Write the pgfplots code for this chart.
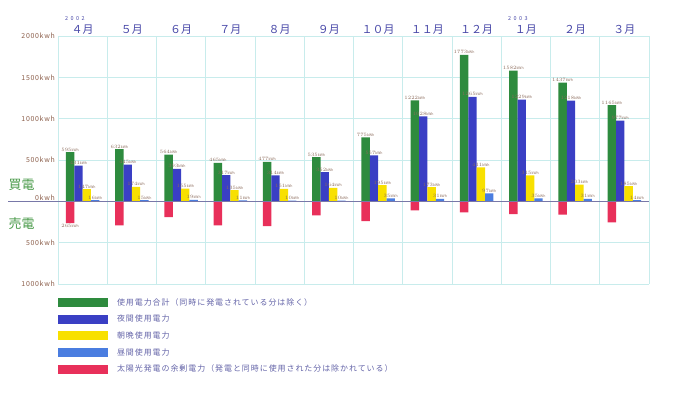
\documentclass[border=0pt]{standalone}
\usepackage{fontspec}
\usepackage{pgfplots}
\pgfplotsset{compat=1.18}
\setmainfont{Noto Sans CJK JP}
\newfontfamily\legfont[LetterSpace=12]{Noto Sans CJK JP}
\newfontfamily\yearfont[LetterSpace=45]{Noto Sans CJK JP}
\newfontfamily\tickfont[LetterSpace=10]{Noto Sans CJK JP}
\definecolor{greenc}{HTML}{2E8B3E}
\definecolor{bluec}{HTML}{3A3FC4}
\definecolor{yellowc}{HTML}{F8E000}
\definecolor{lbluec}{HTML}{4A7DE0}
\definecolor{redc}{HTML}{E8305A}
\definecolor{gridc}{HTML}{C8ECEC}
\definecolor{zeroc}{HTML}{7878A8}
\definecolor{tickc}{HTML}{8B5E4A}
\definecolor{monthc}{HTML}{4848A8}
\definecolor{legc}{HTML}{6464A8}
\definecolor{labc}{HTML}{8B6B5B}
\definecolor{buyc}{HTML}{4A9A4A}
\begin{document}
\begin{tikzpicture}
\path[use as bounding box] (0,0) rectangle (673bp,-394bp);
\begin{axis}[
  at={(58bp,-36bp)}, anchor=north west,
  scale only axis, width=591bp, height=248bp,
  xmin=0, xmax=12, ymin=-1000, ymax=2000,
  clip=false,
  axis line style={draw=none},
  major tick length=0pt, minor tick length=0pt,
  xtick={0.5,1.5,...,11.5},
  xticklabels={４月,５月,６月,７月,８月,９月,１０月,１１月,１２月,１月,２月,３月},
  xticklabel pos=upper,
  xticklabel style={font=\fontsize{11}{12}\selectfont, text=monthc, inner sep=0pt, yshift=1bp},
  minor xtick={0,1,...,12},
  xminorgrids,
  minor grid style={color=gridc, line width=0.7pt},
  ytick={-1000,-500,500,1000,1500,2000},
  yticklabels={1000kwh,500kwh,500kwh,1000kwh,1500kwh,2000kwh},
  yticklabel style={font=\tickfont\fontsize{7}{8}\selectfont, text=tickc, inner sep=0pt, xshift=-3bp},
  extra y ticks={0},
  extra y tick labels={0kwh},
  extra y tick style={yticklabel style={yshift=3.5bp}},
  ymajorgrids,
  major grid style={color=gridc, line width=0.7pt},
  nodes near coords style={font=\fontsize{3.5}{4}\selectfont, text=labc, inner sep=0.8bp},
  legend image code/.code={\fill[#1] (0bp,-4.5bp) rectangle (50bp,4.5bp);},
  legend style={at={(0,-0.056)}, anchor=north west, draw=none, fill=none,
    inner sep=0pt, outer sep=0pt, row sep=7.7bp, column sep=9bp,
    font=\legfont\fontsize{8}{9}\selectfont, text=legc,
    nodes={inner sep=0pt}},
  legend cell align=left,
]
\addplot[ybar, bar width=0.17, bar shift=0pt, fill=greenc, draw=none,
  nodes near coords={\pgfmathprintnumber[fixed,precision=0,1000 sep={}]{\pgfplotspointmeta}kWh}]
  coordinates {(0.245,595) (1.245,632) (2.245,564) (3.245,465) (4.245,477) (5.245,535)
               (6.245,775) (7.245,1222) (8.245,1773) (9.245,1582) (10.245,1437) (11.245,1165)};
\addlegendentry{使用電力合計（同時に発電されている分は除く）}
\addplot[ybar, bar width=0.17, bar shift=0pt, fill=bluec, draw=none,
  nodes near coords={\pgfmathprintnumber[fixed,precision=0,1000 sep={}]{\pgfplotspointmeta}kWh}]
  coordinates {(0.415,431) (1.415,445) (2.415,393) (3.415,317) (4.415,314) (5.415,352)
               (6.415,557) (7.415,1028) (8.415,1265) (9.415,1229) (10.415,1218) (11.415,977)};
\addlegendentry{夜間使用電力}
\addplot[ybar, bar width=0.17, bar shift=0pt, fill=yellowc, draw=none,
  nodes near coords={\pgfmathprintnumber[fixed,precision=0,1000 sep={}]{\pgfplotspointmeta}kWh}]
  coordinates {(0.585,147) (1.585,174) (2.585,155) (3.585,135) (4.585,151) (5.585,164)
               (6.585,195) (7.585,173) (8.585,411) (9.585,315) (10.585,203) (11.585,185)};
\addlegendentry{朝晩使用電力}
\addplot[ybar, bar width=0.17, bar shift=0pt, fill=lbluec, draw=none,
  nodes near coords={\pgfmathprintnumber[fixed,precision=0,1000 sep={}]{\pgfplotspointmeta}kWh}]
  coordinates {(0.755,16) (1.755,15) (2.755,19) (3.755,11) (4.755,10) (5.755,10)
               (6.755,35) (7.755,31) (8.755,97) (9.755,35) (10.755,31) (11.755,14)};
\addlegendentry{昼間使用電力}
\addplot[ybar, bar width=0.17, bar shift=0pt, fill=redc, draw=none]
  coordinates {(0.245,-265) (1.245,-290) (2.245,-190) (3.245,-290) (4.245,-300) (5.245,-170)
               (6.245,-240) (7.245,-110) (8.245,-135) (9.245,-155) (10.245,-160) (11.245,-255)};
\addlegendentry{太陽光発電の余剰電力（発電と同時に使用された分は除かれている）}
\addplot[ybar, bar width=0.17, bar shift=0pt, fill=none, draw=none, forget plot,
  point meta=explicit,
  nodes near coords={\pgfmathprintnumber[fixed,precision=0,1000 sep={}]{\pgfplotspointmeta}kWh},
  every node near coord/.append style={anchor=north}]
  coordinates {(0.245,-265) [265]};
\draw[zeroc, line width=0.8pt] (axis cs:-1.015,0) -- (axis cs:12,0);
\node[text=buyc, font=\fontsize{13}{14}\selectfont, inner sep=0pt] at (axis cs:-0.741,205) {買電};
\node[text=buyc, font=\fontsize{13}{14}\selectfont, inner sep=0pt] at (axis cs:-0.741,-266) {売電};
\node[text=monthc, font=\yearfont\fontsize{5.5}{6}\selectfont, inner sep=0pt] at (axis cs:0.345,2214) {2002};
\node[text=monthc, font=\yearfont\fontsize{5.5}{6}\selectfont, inner sep=0pt] at (axis cs:9.34,2214) {2003};
\end{axis}
\end{tikzpicture}
\end{document}
